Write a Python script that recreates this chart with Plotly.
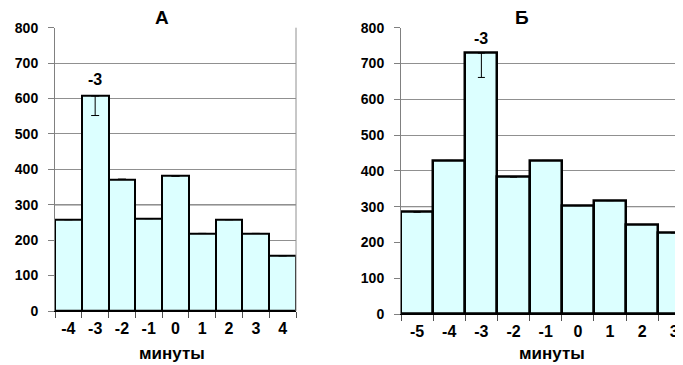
import plotly.graph_objects as go

# figure sits inside the page body's 8px margin; reference pixel coords are mapped accordingly
OFF = 8
W, H = 683 - OFF, 365 - OFF

cats_a = ["-4", "-3", "-2", "-1", "0", "1", "2", "3", "4"]
vals_a = [258, 607, 372, 261, 381, 219, 258, 219, 156]
err_a = [None, 55, None, None, None, None, None, None, None]

cats_b = ["-5", "-4", "-3", "-2", "-1", "0", "1", "2", "3", "4"]
vals_b = [285, 429, 729, 383, 429, 303, 317, 250, 227, 200]
err_b = [None, None, 68, None, None, None, None, None, None, None]

peak_label = "-3"
title_a = "А"
title_b = "Б"
xlabel = "минуты"

FONT = "Arial, Liberation Sans, sans-serif"
FILL = "#dcffff"

def px(x):
    return (x - OFF) / W

def py(y):
    return (H - (y - OFF)) / H

fig = go.Figure()
fig.add_trace(go.Bar(
    x=cats_a, y=vals_a, xaxis="x", yaxis="y",
    marker=dict(color=FILL, line=dict(color="black", width=2)),
    error_y=dict(type="data", symmetric=False, array=[0 if e is not None else None for e in err_a],
                 arrayminus=err_a, color="black", thickness=1, width=4),
    showlegend=False))
fig.add_trace(go.Bar(
    x=cats_b, y=vals_b, xaxis="x2", yaxis="y2",
    marker=dict(color=FILL, line=dict(color="black", width=2.5)),
    error_y=dict(type="data", symmetric=False, array=[0 if e is not None else None for e in err_b],
                 arrayminus=err_b, color="black", thickness=1, width=3.5),
    showlegend=False))

yax = dict(range=[0, 800], dtick=100, showgrid=True, gridcolor="#909090", gridwidth=1,
           showline=True, linecolor="#808080", linewidth=1, ticks="outside", ticklen=6,
           tickcolor="#808080", tickfont=dict(family=FONT, size=14, color="black", weight=700),
           ticklabelstandoff=7, zeroline=False, fixedrange=True, automargin=False)
xax = dict(type="category", tickson="boundaries", ticks="outside", ticklen=6, tickcolor="#505050",
           showline=True, linecolor="black", linewidth=1, showgrid=False, automargin=False,
           ticklabelstandoff=3,
           tickfont=dict(family=FONT, size=16, color="black", weight=700))

fig.update_layout(
    template="none",
    width=W, height=H, margin=dict(l=0, r=0, t=0, b=0, autoexpand=False),
    paper_bgcolor="white", plot_bgcolor="white", bargap=0,
    xaxis=dict(xax, domain=[px(55), px(296)], anchor="y", range=[-0.5, 8.5]),
    yaxis=dict(yax, domain=[py(311), py(27.7)], anchor="x"),
    xaxis2=dict(xax, domain=[px(401), 1.0], anchor="y2", range=[-0.5, 8.27]),
    yaxis2=dict(yax, domain=[py(314), py(27.7)], anchor="x2"),
)

shapes = []
for xr, yr in (("x", "y"), ("x2", "y2")):
    shapes.append(dict(type="line", xref=xr + " domain", yref=yr, x0=0, x1=1, y0=300, y1=300,
                       line=dict(color="black", width=1), layer="below"))
shapes.append(dict(type="line", xref="x domain", yref="y domain", x0=1, x1=1, y0=0, y1=1,
                   line=dict(color="#909090", width=1)))
fig.update_layout(shapes=shapes)

def txt(size):
    return dict(family=FONT, size=size, color="black", weight=700)

ia = cats_a.index(peak_label)
ib = cats_b.index(peak_label)
ann = [
    dict(text=title_a, x=px(162), y=py(17), xref="paper", yref="paper", font=txt(19)),
    dict(text=title_b, x=px(522), y=py(17), xref="paper", yref="paper", font=txt(19)),
    dict(text=xlabel, x=px(172), y=py(353), xref="paper", yref="paper", font=txt(17)),
    dict(text=xlabel, x=px(552), y=py(353), xref="paper", yref="paper", font=txt(17)),
    dict(text=peak_label, x=ia, y=vals_a[ia], xref="x", yref="y", yshift=17, font=txt(16)),
    dict(text=peak_label, x=ib, y=vals_b[ib], xref="x2", yref="y2", yshift=15, font=txt(16)),
]
for a in ann:
    a.update(showarrow=False, xanchor="center", yanchor="middle")
fig.update_layout(annotations=ann)

fig.write_html("out.html")
